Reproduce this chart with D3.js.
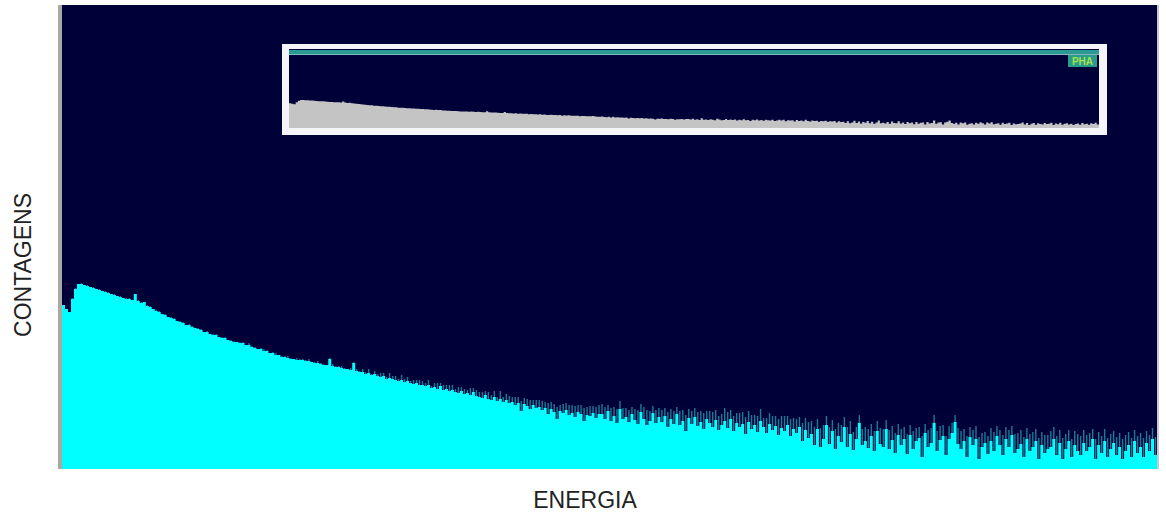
<!DOCTYPE html>
<html>
  <head>
    <meta charset="utf-8">
    <script src="https://cdn.jsdelivr.net/npm/d3@7/dist/d3.min.js"></script>
    <style>
      body { margin: 0; background: #fff; }
      svg { display: block; }
    </style>
  </head>
  <body>
    <svg id="chart" width="1166" height="513"></svg>
    <script>
        // counts per channel (366 channels)
        var counts = [
          164,160,157,170,180,185,185,184,183,182,
          181,180,179,178,177,176,175,174,173,172,
          171,170,170,169,175,168,166,167,163,162,
          160,158,157,155,154,152,151,150,148,147,
          146,144,144,142,141,140,139,137,137,135,
          134,134,132,131,131,129,128,127,127,126,
          126,124,124,122,121,120,120,118,118,116,
          116,114,114,112,112,111,110,110,109,109,
          109,108,108,107,106,106,105,104,104,110,
          103,102,102,101,100,100,99,106,98,97,
          97,95,96,94,95,93,92,93,90,91,
          90,89,88,89,87,88,86,85,86,84,
          84,83,84,81,82,80,83,79,80,78,
          79,77,76,78,75,76,74,77,73,72,
          71,74,70,69,72,68,70,67,69,66,
          67,64,66,58,65,63,60,64,61,62,
          59,61,55,60,57,50,58,56,59,54,
          56,52,57,55,48,54,53,56,51,55,
          55,50,58,48,53,46,60,50,52,47,
          55,49,45,57,50,44,48,56,46,52,
          47,53,42,50,45,55,44,48,38,51,
          45,52,43,47,40,50,46,42,49,39,
          44,48,41,50,38,46,42,45,35,47,
          40,44,37,48,42,36,45,39,43,34,
          41,38,44,33,40,36,42,28,39,31,
          35,24,40,22,30,44,25,38,20,33,
          27,42,22,35,19,30,46,24,28,21,
          33,18,38,25,22,40,20,29,16,34,
          24,30,15,34,20,28,31,12,36,22,
          26,46,18,29,33,14,30,36,47,25,
          20,28,12,32,24,30,10,22,26,15,
          28,18,33,24,14,30,22,34,16,20,
          25,12,30,18,22,28,10,24,16,20,
          22,30,14,26,10,20,28,12,24,18,
          14,26,18,22,30,10,24,16,28,12,
          20,26,14,22,10,18,24,12,28,16,
          22,12,26,18,30,14
        ];
        // extra height of the thin (dim) spikes above each channel
        var spikes = [
          0,0,0,1,1,0,1,0,1,0,
          1,0,1,0,1,1,0,1,0,1,
          0,1,1,0,0,1,1,0,1,1,
          0,1,1,0,1,0,1,1,0,1,
          1,0,1,1,0,1,1,0,1,0,
          1,1,0,1,1,0,1,1,0,1,
          1,0,2,1,1,0,1,2,1,0,
          1,2,0,1,1,2,1,0,2,1,
          1,1,2,0,1,2,1,1,0,1,
          2,1,1,2,1,0,2,1,2,1,
          3,2,4,1,3,2,4,3,2,5,
          3,4,2,5,3,4,2,4,3,5,
          4,3,5,2,4,6,3,5,4,6,
          5,3,6,4,5,3,7,4,6,5,
          6,4,7,5,6,4,8,5,6,7,
          5,8,6,10,6,7,9,5,8,7,
          9,6,11,7,8,12,6,9,7,10,
          8,11,7,9,13,8,10,7,11,9,
          10,12,6,13,9,14,8,11,9,12,
          7,11,14,8,12,15,10,7,13,9,
          12,8,15,10,13,7,14,11,16,9,
          13,9,14,11,16,8,12,15,10,14,
          11,13,16,9,15,10,14,12,17,11,
          14,10,16,12,9,15,11,14,10,16,
          12,15,9,17,11,14,10,18,12,16,
          13,18,10,19,14,9,17,11,20,13,
          17,10,20,13,18,12,8,16,14,19,
          12,20,10,16,18,9,19,14,20,11,
          16,12,20,10,18,13,11,21,9,17,
          15,8,20,14,11,19,13,10,7,16,
          18,12,21,10,15,13,22,14,11,18,
          13,19,10,15,20,12,17,9,19,16,
          14,20,11,17,15,12,21,13,18,14,
          16,12,19,13,21,15,11,18,14,17,
          19,13,16,14,10,20,13,17,12,19,
          15,12,18,14,20,16,13,19,11,17,
          14,19,12,16,11,18
        ];
        var xLabel = "ENERGIA";
        var yLabel = "CONTAGENS";
        var insetLabel = "PHA";

        var svg = d3.select("#chart");
        var n = counts.length;
        var maxCount = 464;

        // main plot
        var x = d3.scaleLinear().domain([0, n]).range([62, 1157]);
        var y = d3.scaleLinear().domain([0, maxCount]).range([469, 5]);

        svg.append("rect").attr("x", 58).attr("y", 5).attr("width", 4).attr("height", 464).attr("fill", "#a9a9a4");
        svg.append("rect").attr("x", 62).attr("y", 5).attr("width", 1096).attr("height", 464).attr("fill", "#000038");
        svg.append("rect").attr("x", 1157).attr("y", 5).attr("width", 2).attr("height", 464).attr("fill", "#c8c8d0");

        var pts = counts.map(function(d, i) { return [i, d, d + spikes[i]]; });
        pts.push([n, counts[n - 1], counts[n - 1] + spikes[n - 1]]);

        // thin spikes as narrow dim bars
        svg.append("g").selectAll("rect")
          .data(pts.slice(0, n))
          .enter().append("rect")
            .attr("x", function(d) { return x(d[0]) + 0.8; })
            .attr("width", 1.4)
            .attr("y", function(d) { return y(d[2]); })
            .attr("height", function(d) { return y(0) - y(d[2]); })
            .attr("fill", "#1a7a98");

        var area = d3.area()
            .curve(d3.curveStepAfter)
            .x(function(d) { return x(d[0]); })
            .y0(y(0))
            .y1(function(d) { return y(d[1]); });

        svg.append("path").datum(pts).attr("d", area).attr("fill", "#00ffff");

        // inset (overview of same spectrum)
        svg.append("rect").attr("x", 282).attr("y", 44).attr("width", 825).attr("height", 91).attr("fill", "#f4f4fa");
        svg.append("rect").attr("x", 289).attr("y", 49).attr("width", 810).attr("height", 79).attr("fill", "#000038");
        svg.append("rect").attr("x", 289).attr("y", 50).attr("width", 810).attr("height", 4).attr("fill", "#2a9a92");
        svg.append("rect").attr("x", 289).attr("y", 54).attr("width", 810).attr("height", 1).attr("fill", "#7fb8c0");

        var xi = d3.scaleLinear().domain([0, n]).range([289, 1099]);
        var yi = d3.scaleLinear().domain([0, maxCount]).range([128, 58]);

        var areaInset = d3.area()
            .curve(d3.curveStepAfter)
            .x(function(d) { return xi(d[0]); })
            .y0(yi(0))
            .y1(function(d) { return yi((d[1] + d[2]) / 2); });

        svg.append("path").datum(pts).attr("d", areaInset).attr("fill", "#c4c4c4");

        svg.append("rect").attr("x", 1068).attr("y", 55).attr("width", 29).attr("height", 12).attr("fill", "#2a9a8a");
        svg.append("text").attr("x", 1082.5).attr("y", 65)
            .attr("text-anchor", "middle")
            .attr("font-family", "Liberation Sans, Arial, sans-serif")
            .attr("font-size", 10)
            .attr("font-weight", "bold")
            .attr("fill", "#a6e24a")
            .text(insetLabel);

        // axis titles
        svg.append("text").attr("x", 585).attr("y", 508)
            .attr("text-anchor", "middle")
            .attr("font-family", "Liberation Sans, Arial, sans-serif")
            .attr("font-size", 23)
            .attr("fill", "#222")
            .text(xLabel);

        svg.append("text")
            .attr("transform", "translate(31,265) rotate(-90)")
            .attr("text-anchor", "middle")
            .attr("font-family", "Liberation Sans, Arial, sans-serif")
            .attr("font-size", 23)
            .attr("fill", "#222")
            .text(yLabel);
    </script>
  </body>
</html>
